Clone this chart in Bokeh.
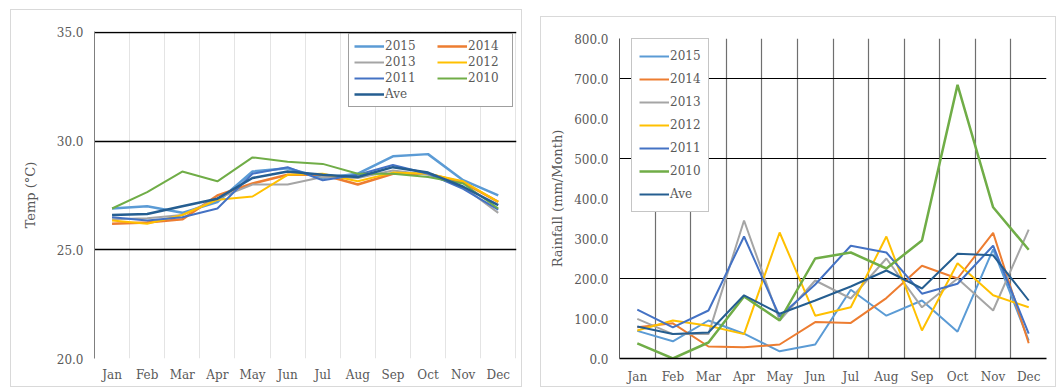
from bokeh.plotting import figure
from bokeh.layouts import row
from bokeh.models import FixedTicker, Legend, LegendItem, NumeralTickFormatter
from bokeh.embed import file_html
from bokeh.resources import INLINE

# Monthly data, 2010-2015 and average
months = ["Jan", "Feb", "Mar", "Apr", "May", "Jun", "Jul", "Aug", "Sep", "Oct", "Nov", "Dec"]
series_names = ["2015", "2014", "2013", "2012", "2011", "2010", "Ave"]

temp_2015 = [26.9, 27.0, 26.7, 27.2, 28.6, 28.75, 28.3, 28.5, 29.3, 29.4, 28.2, 27.5]
temp_2014 = [26.2, 26.25, 26.4, 27.5, 28.05, 28.45, 28.45, 28.0, 28.5, 28.5, 28.1, 27.2]
temp_2013 = [26.4, 26.45, 26.6, 27.35, 28.0, 28.0, 28.35, 28.3, 28.65, 28.45, 27.9, 26.7]
temp_2012 = [26.35, 26.2, 26.6, 27.3, 27.45, 28.45, 28.5, 28.15, 28.55, 28.5, 28.15, 27.2]
temp_2011 = [26.5, 26.35, 26.5, 26.9, 28.5, 28.8, 28.2, 28.45, 28.9, 28.5, 27.8, 26.85]
temp_2010 = [26.9, 27.65, 28.6, 28.15, 29.25, 29.05, 28.95, 28.5, 28.5, 28.35, 28.05, 26.9]
temp_ave = [26.6, 26.65, 27.0, 27.35, 28.3, 28.6, 28.45, 28.35, 28.8, 28.55, 27.9, 27.05]

rain_2015 = [69, 43, 95, 62, 18, 35, 172, 107, 145, 67, 273, 45]
rain_2014 = [78, 88, 30, 28, 35, 91, 89, 151, 232, 200, 314, 38]
rain_2013 = [99, 61, 61, 345, 95, 195, 150, 250, 128, 200, 120, 322]
rain_2012 = [70, 95, 82, 61, 315, 107, 128, 305, 70, 238, 158, 128]
rain_2011 = [122, 78, 120, 305, 105, 185, 282, 265, 162, 187, 282, 62]
rain_2010 = [38, 0, 40, 155, 95, 250, 265, 225, 295, 684, 378, 272]
rain_ave = [80, 61, 65, 158, 112, 145, 180, 220, 175, 262, 258, 145]

temps = [temp_2015, temp_2014, temp_2013, temp_2012, temp_2011, temp_2010, temp_ave]
rains = [rain_2015, rain_2014, rain_2013, rain_2012, rain_2011, rain_2010, rain_ave]

colors = ["#5B9BD5", "#ED7D31", "#A5A5A5", "#FFC000", "#4472C4", "#70AD47", "#255E91"]
temp_widths = [2.5, 2.5, 2, 2, 2, 2, 2.5]
rain_widths = [2, 2, 2, 2, 2, 2.5, 2]

FONT = "DejaVu Serif"
TEXT = "#595959"
x = list(range(1, len(months) + 1))
month_labels = {i: m for i, m in zip(x, months)}
boundaries = [i + 0.5 for i in x]


def style_axes(p):
    p.xaxis.ticker = FixedTicker(ticks=x)
    p.xaxis.major_label_overrides = month_labels
    for ax in (p.xaxis[0], p.yaxis[0]):
        ax.major_tick_line_color = None
        ax.minor_tick_line_color = None
        ax.major_tick_out = 0
        ax.major_tick_in = 0
        ax.minor_tick_out = 0
        ax.major_label_text_font = FONT
        ax.major_label_text_font_size = "12px"
        ax.major_label_text_color = TEXT
        ax.axis_label_text_font = FONT
        ax.axis_label_text_font_size = "13px"
        ax.axis_label_text_font_style = "normal"
        ax.axis_label_text_color = TEXT
    p.yaxis.major_label_standoff = 11
    p.yaxis.formatter = NumeralTickFormatter(format="0.0")
    p.xgrid.ticker = FixedTicker(ticks=boundaries)


def legend_style(**kw):
    base = dict(label_text_font=FONT, label_text_font_size="12px", label_text_color=TEXT,
                glyph_width=30, label_standoff=1, margin=0,
                background_fill_color="white", background_fill_alpha=1)
    base.update(kw)
    return base


# Temperature panel
pt = figure(width=512, height=378, x_range=(0.5, 12.52), y_range=(20, 35.04),
            title=None, output_backend="svg", toolbar_location=None,
            min_border_left=83, min_border_right=7, min_border_top=16, min_border_bottom=30,
            margin=(9, 0, 0, 10), styles={"border": "1px solid #d9d9d9"})
pt.outline_line_color = None
style_axes(pt)
pt.yaxis.ticker = FixedTicker(ticks=[20, 25, 30, 35])
pt.yaxis.axis_label = "Temp (°C)"
pt.yaxis.axis_label_standoff = 16
pt.yaxis.axis_line_color = "#7f7f7f"
pt.xaxis.axis_line_color = None
pt.xaxis.major_label_standoff = 9
pt.ygrid.ticker = FixedTicker(ticks=[25, 30, 35])
pt.ygrid.grid_line_color = "#000000"
pt.ygrid.grid_line_width = 1.5
pt.xgrid.grid_line_color = "#e4e4e4"

t_items = {}
for name, vals, c, w in zip(series_names, temps, colors, temp_widths):
    r = pt.line(x, vals, line_color=c, line_width=w)
    t_items[name] = LegendItem(label=name, renderers=[r])

# two-column legend: the first column carries the frame, the second sits inside it
leg_t1 = Legend(items=[t_items[n] for n in ["2015", "2013", "2011", "Ave"]],
                location=(254, 251),
                **legend_style(glyph_height=14, label_height=14, label_width=122,
                               spacing=2, padding=5,
                               border_line_color="#404040", border_line_width=1.5))
leg_t2 = Legend(items=[t_items[n] for n in ["2014", "2012", "2010"]],
                location=(343, 273),
                **legend_style(glyph_height=14, label_height=14, spacing=2, padding=5,
                               border_line_color=None, background_fill_alpha=0))
pt.add_layout(leg_t1, "center")
pt.add_layout(leg_t2, "center")

# Rainfall panel
pr = figure(width=516, height=371, x_range=(0.5, 12.5), y_range=(0, 800),
            title=None, output_backend="svg", toolbar_location=None,
            min_border_left=78, min_border_right=11, min_border_top=21, min_border_bottom=28,
            margin=(16, 0, 0, 18), styles={"border": "1px solid #d9d9d9"})
pr.outline_line_color = None
style_axes(pr)
pr.yaxis.ticker = FixedTicker(ticks=list(range(0, 801, 100)))
pr.yaxis.axis_label = "Rainfall (mm/Month)"
pr.yaxis.axis_label_standoff = 6
pr.yaxis.axis_line_color = "#595959"
pr.xaxis.axis_line_color = "#000000"
pr.xaxis.axis_line_width = 1.5
pr.xaxis.major_label_standoff = 11
pr.ygrid.ticker = FixedTicker(ticks=[200, 500, 700])
pr.ygrid.grid_line_color = "#000000"
pr.ygrid.grid_line_width = 1.2
pr.xgrid.ticker = FixedTicker(ticks=boundaries[:-1])
pr.xgrid.grid_line_color = "#6f6f6f"
pr.xgrid.grid_line_width = 1.2

r_items = []
for name, vals, c, w in zip(series_names, rains, colors, rain_widths):
    r = pr.line(x, vals, line_color=c, line_width=w)
    r_items.append(LegendItem(label=name, renderers=[r]))

leg_r = Legend(items=r_items, location=(12, 146),
               **legend_style(glyph_height=20, label_height=20, spacing=3, padding=7,
                              border_line_color="#8c8c8c", border_line_width=1.2))
pr.add_layout(leg_r, "center")

layout = row(pt, pr, spacing=0)
open("out.html", "w").write(file_html(layout, INLINE))
